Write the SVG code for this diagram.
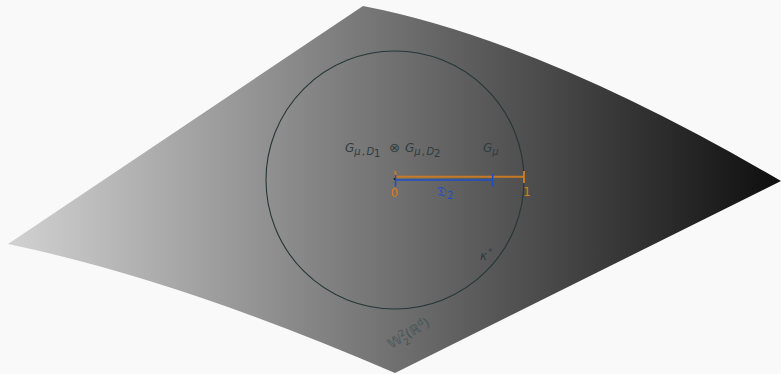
<svg xmlns="http://www.w3.org/2000/svg" width="781" height="374" viewBox="0 0 781 374">
<defs>
<linearGradient id="shade" x1="8" y1="0" x2="781" y2="0" gradientUnits="userSpaceOnUse">
<stop offset="0" stop-color="#d2d2d2"/>
<stop offset="1" stop-color="#0e0e0e"/>
</linearGradient>
<style>
.lbl{font-family:"DejaVu Sans","Liberation Sans",sans-serif;font-style:italic;fill:#2e3c3f;font-size:12px}
.sub{font-size:10px}
.num{font-family:"DejaVu Sans","Liberation Sans",sans-serif;font-size:11.5px;fill:#e07b12}
.orange{stroke:#c67a26;stroke-width:2;fill:none}
.blue{stroke:#1c4fc4;stroke-width:1.6;fill:none}
</style>
</defs>
<rect width="781" height="374" fill="#f9f9f9"/>
<g id="surface">
<path d="M8,244 L363,6 Q540,40 781,181 L395,373 Q180,280 8,244 Z" fill="url(#shade)"/>
</g>
<g id="ball">
<circle cx="395" cy="180" r="129" fill="none" stroke="#263638" stroke-width="1.1"/>
</g>
<g id="segments">
<line class="orange" x1="395.5" y1="176.7" x2="524" y2="176.7"/>
<line class="orange" x1="395.5" y1="171" x2="395.5" y2="178" stroke-width="1.2"/>
<line class="orange" x1="524" y1="171" x2="524" y2="183" stroke-width="1.4"/>
<line class="blue" x1="395.5" y1="180" x2="492.7" y2="180"/>
<line class="blue" x1="395.5" y1="175" x2="395.5" y2="186.5" stroke-width="1.3"/>
<line class="blue" x1="492.7" y1="174" x2="492.7" y2="186.5" stroke-width="1.3"/>
<circle cx="394.5" cy="179" r="1" fill="#222"/>
</g>
<g id="label-product">
<text class="lbl" x="345" y="152">G<tspan class="sub" dy="3">μ</tspan><tspan class="sub" font-style="normal" dx="1">,</tspan><tspan class="sub" dx="1.5">D</tspan><tspan class="sub" font-style="normal" dy="2">1</tspan></text>
<text x="389" y="152" font-family="DejaVu Sans, sans-serif" font-size="13" fill="#2e3c3f">⊗</text>
<text class="lbl" x="405" y="152">G<tspan class="sub" dy="3">μ</tspan><tspan class="sub" font-style="normal" dx="1">,</tspan><tspan class="sub" dx="1.5">D</tspan><tspan class="sub" font-style="normal" dy="2">2</tspan></text>
</g>
<g id="label-gmu">
<text class="lbl" x="483" y="152">G<tspan class="sub" dy="3">μ</tspan></text>
</g>
<g id="label-ends">
<text class="num" x="394.5" y="197" text-anchor="middle">0</text>
<text class="num" x="527" y="196" text-anchor="middle">1</text>
</g>
<g id="label-d2">
<text x="437" y="196" font-family="DejaVu Sans, sans-serif" font-size="13" fill="#1c4fc4">𝔇<tspan font-size="10" dy="3">2</tspan></text>
</g>
<g id="kappa">
<circle cx="492" cy="265" r="0.9" fill="#2e3c3f"/>
<text class="lbl" x="480" y="260" font-size="11" fill="#3c4a4c">κ<tspan font-style="normal" font-size="9" dy="-5" dx="1">*</tspan></text>
</g>
<g id="label-space">
<text transform="translate(391,349) rotate(-31)" font-family="DejaVu Sans, sans-serif" font-size="13" fill="#445458">𝕎<tspan font-size="9" dy="-5">2</tspan><tspan font-size="9" dx="-5.5" dy="10">2</tspan><tspan dy="-5">(ℝ</tspan><tspan font-size="9" dy="-5">d</tspan><tspan dy="5">)</tspan></text>
</g>
</svg>
